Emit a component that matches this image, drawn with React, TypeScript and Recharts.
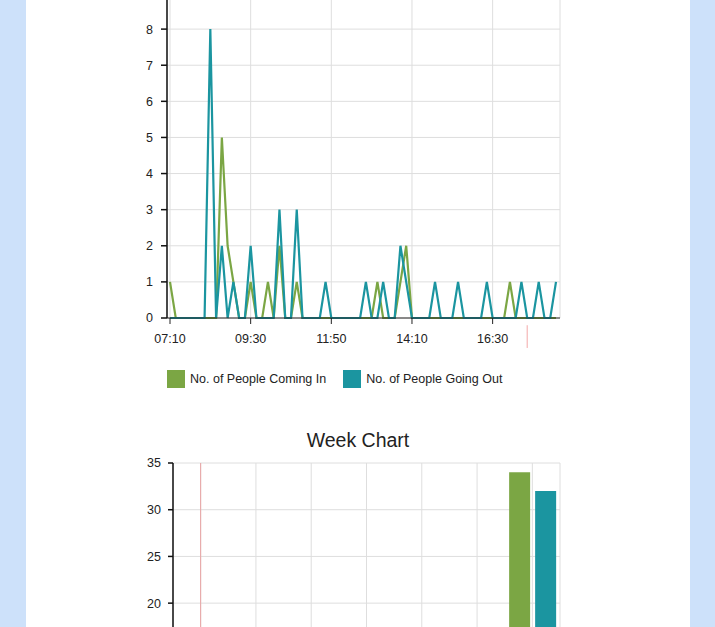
// Day / week people counter charts
import React from 'react';
import {
  LineChart,
  Line,
  BarChart,
  Bar,
  XAxis,
  YAxis,
  CartesianGrid,
  ReferenceLine,
} from 'recharts';

// times of the day chart (every 10 minutes)
const times = [
  '07:10', '07:20', '07:30', '07:40', '07:50', '08:00', '08:10', '08:20', '08:30', '08:40',
  '08:50', '09:00', '09:10', '09:20', '09:30', '09:40', '09:50', '10:00', '10:10', '10:20',
  '10:30', '10:40', '10:50', '11:00', '11:10', '11:20', '11:30', '11:40', '11:50', '12:00',
  '12:10', '12:20', '12:30', '12:40', '12:50', '13:00', '13:10', '13:20', '13:30', '13:40',
  '13:50', '14:00', '14:10', '14:20', '14:30', '14:40', '14:50', '15:00', '15:10', '15:20',
  '15:30', '15:40', '15:50', '16:00', '16:10', '16:20', '16:30', '16:40', '16:50', '17:00',
  '17:10', '17:20', '17:30', '17:40', '17:50', '18:00', '18:10', '18:20',
];

const comingIn = [
  1, 0, 0, 0, 0, 0, 0, 0, 0, 5,
  2, 1, 0, 0, 1, 0, 0, 1, 0, 2,
  0, 0, 1, 0, 0, 0, 0, 0, 0, 0,
  0, 0, 0, 0, 0, 0, 1, 0, 0, 0,
  1, 2, 0, 0, 0, 0, 0, 0, 0, 0,
  0, 0, 0, 0, 0, 0, 0, 0, 0, 1,
  0, 0, 0, 0, 0, 0, 0, 0,
];

const goingOut = [
  0, 0, 0, 0, 0, 0, 0, 8, 0, 2,
  0, 1, 0, 0, 2, 0, 0, 0, 0, 3,
  0, 0, 3, 0, 0, 0, 0, 1, 0, 0,
  0, 0, 0, 0, 1, 0, 0, 1, 0, 0,
  2, 1, 0, 0, 0, 0, 1, 0, 0, 0,
  1, 0, 0, 0, 0, 1, 0, 0, 0, 0,
  0, 1, 0, 0, 1, 0, 0, 1,
];

const dayTicks = [0, 1, 2, 3, 4, 5, 6, 7, 8, 9];
const nowTime = '17:30';

// week chart
const days = ['Mon', 'Tue', 'Wed', 'Thu', 'Fri', 'Sat', 'Sun'];
const weekIn = [0, 0, 0, 0, 0, 0, 34];
const weekOut = [0, 0, 0, 0, 0, 0, 32];
const weekTicks = [0, 5, 10, 15, 20, 25, 30, 35];

const series = [
  { key: 'in', name: 'No. of People Coming In', color: '#7ba644' },
  { key: 'out', name: 'No. of People Going Out', color: '#1b95a0' },
];

const dayData = times.map((time, i) => ({ time, in: comingIn[i], out: goingOut[i] }));
const weekData = days.map((day, i) => ({ day, in: weekIn[i], out: weekOut[i] }));

const FONT = '"Liberation Sans", Arial, Helvetica, sans-serif';
const tickStyle = { fontSize: 12.5, fill: '#222', fontFamily: FONT };

export default function App() {
  return (
    <div
      style={{
        position: 'absolute',
        left: 0,
        top: 0,
        width: 715,
        height: 627,
        overflow: 'hidden',
        background: '#cde1fa',
        fontFamily: FONT,
      }}
    >
      <div style={{ position: 'absolute', left: 26, top: 0, width: 664, height: 627, background: '#fff' }} />

      {/* day chart */}
      <div style={{ position: 'absolute', left: 0, top: -17 }}>
        <LineChart width={580} height={370} data={dayData} margin={{ top: 10, right: 20, left: 0, bottom: 5 }}>
          <CartesianGrid stroke="#dedede" />
          <XAxis
            dataKey="time"
            interval={13}
            padding={{ left: 3, right: 4 }}
            tick={tickStyle}
            tickSize={6}
            tickMargin={10}
            stroke="#222"
          />
          <YAxis
            width={167}
            domain={[0, 9]}
            ticks={dayTicks}
            tick={tickStyle}
            tickSize={6}
            tickMargin={8}
            stroke="#111"
            strokeWidth={1.5}
          />
          {series.map((s) => (
            <Line
              key={s.key}
              type="linear"
              dataKey={s.key}
              name={s.name}
              stroke={s.color}
              strokeWidth={2.2}
              dot={false}
              isAnimationActive={false}
            />
          ))}
          <ReferenceLine
            segment={[{ x: nowTime, y: -0.2 }, { x: nowTime, y: -0.83 }]}
            stroke="#f3a9a9"
            ifOverflow="visible"
          />
        </LineChart>
      </div>

      {/* legend */}
      <div style={{ position: 'absolute', left: 167, top: 370, display: 'flex', alignItems: 'center' }}>
        {series.map((s) => (
          <div key={s.key} style={{ display: 'flex', alignItems: 'center', marginRight: 17 }}>
            <span style={{ width: 18, height: 18, background: s.color, display: 'inline-block', marginRight: 5 }} />
            <span style={{ fontSize: 12.5, color: '#222' }}>{s.name}</span>
          </div>
        ))}
      </div>

      {/* week chart */}
      <div
        style={{
          position: 'absolute',
          left: 26,
          top: 429,
          width: 664,
          textAlign: 'center',
          fontSize: 19.5,
          lineHeight: '22px',
          color: '#222',
        }}
      >
        Week Chart
      </div>
      <div style={{ position: 'absolute', left: 0, top: 453 }}>
        <BarChart
          width={580}
          height={372}
          data={weekData}
          margin={{ top: 10, right: 20, left: 0, bottom: 5 }}
          barCategoryGap="8%"
          barGap={5}
        >
          <CartesianGrid stroke="#dedede" />
          <XAxis dataKey="day" tick={tickStyle} tickSize={5} stroke="#222" />
          <YAxis
            width={173}
            domain={[0, 35]}
            ticks={weekTicks}
            tick={tickStyle}
            tickSize={5}
            tickMargin={7}
            stroke="#111"
            strokeWidth={1.5}
          />
          <ReferenceLine x={days[0]} stroke="#e9a3a3" />
          {series.map((s) => (
            <Bar key={s.key} dataKey={s.key} name={s.name} fill={s.color} isAnimationActive={false} />
          ))}
        </BarChart>
      </div>
    </div>
  );
}
